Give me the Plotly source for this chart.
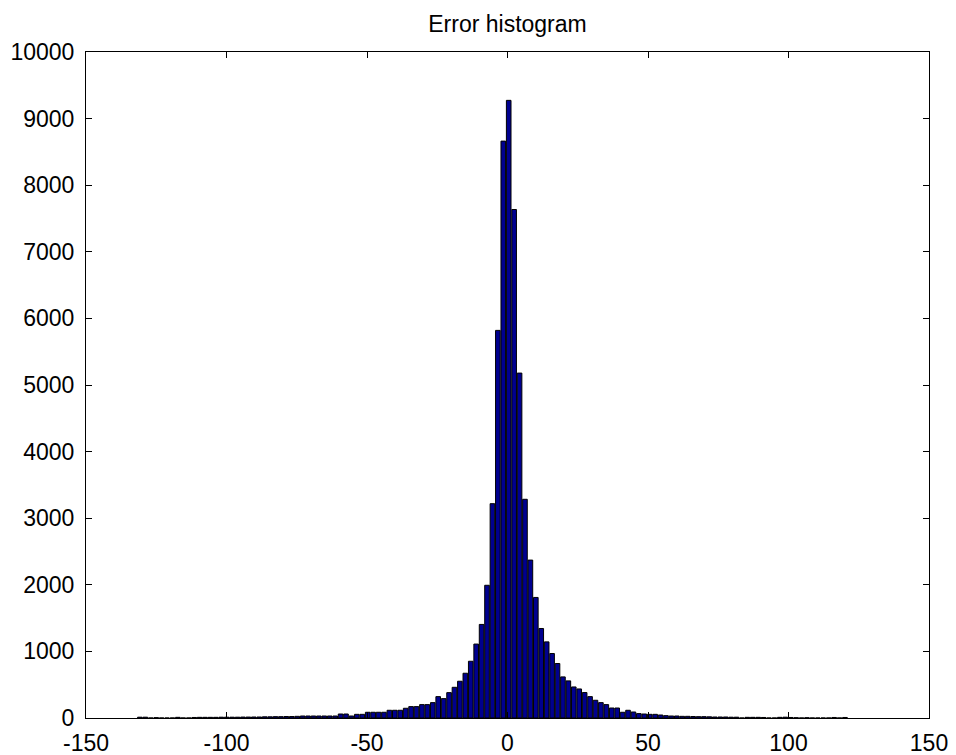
import numpy as np
import plotly.graph_objects as go

# Histogram of errors: bin layout and counts
BIN_START = -130.81   # centre of the first bin
BIN_WIDTH = 1.93
counts = [
    12, 12, 0, 5, 0, 0, 0, 10, 0, 0,            # -68 .. -59
    8, 10, 10, 10, 10, 12, 12, 12, 12, 14,      # -58 .. -49
    14, 15, 15, 18, 18, 20, 20, 22, 22, 25,     # -48 .. -39
    30, 30, 30, 30, 30, 30, 30, 60, 60, 30,     # -38 .. -29
    55, 55, 86, 86, 86, 86, 116, 116, 116, 146, # -28 .. -19
    171, 171, 201, 201, 231, 321, 291, 381, 461, 552,  # -18 .. -9
    672, 852, 1110, 1405, 1993, 3218, 5820, 8662,      # -8 .. -1
    9274,                                              # 0
    7635, 5179, 3284, 2371, 1810, 1344, 1143, 968, 818, 617,  # 1 .. 10
    557, 466, 436, 382, 321, 266, 231, 201, 150, 150,  # 11 .. 20
    86, 116, 90, 66, 60, 55, 55, 45, 35, 30,           # 21 .. 30
    30, 25, 25, 22, 20, 20, 18, 15, 15, 15,            # 31 .. 40
    12, 12, 0, 10, 10, 10, 8, 0, 0, 10,                # 41 .. 50
    12, 8, 4, 0, 4, 0, 0, 0, 0, 8,                     # 51 .. 60
    0, 8,                                              # 61 .. 62
]
bin_centers = BIN_START + BIN_WIDTH * np.arange(len(counts))

x_ticks = [-150, -100, -50, 0, 50, 100, 150]
y_ticks = list(range(0, 10001, 1000))
title_text = "Error histogram"

FONT = "Liberation Sans, Arial, Helvetica, sans-serif"

# the page body adds an 8px margin around the figure, so the figure is
# sized to fill the remaining window area
FIG_W, FIG_H = 948, 747

fig = go.Figure(
    go.Bar(
        x=bin_centers,
        y=counts,
        width=BIN_WIDTH * 0.85,
        marker=dict(color="#00008F", line=dict(color="black", width=1)),
        hoverinfo="x+y",
    )
)

axis_common = dict(
    showline=True,
    linecolor="black",
    linewidth=1,
    mirror="ticks",
    ticks="inside",
    ticklen=6,
    tickcolor="black",
    tickwidth=1,
    showgrid=False,
    zeroline=False,
    automargin=False,
    tickfont=dict(family=FONT, size=23, color="black"),
)

fig.update_layout(
    width=FIG_W,
    height=FIG_H,
    margin=dict(l=78, r=27, t=44, b=37),
    paper_bgcolor="white",
    plot_bgcolor="white",
    showlegend=False,
    title=dict(
        text=title_text,
        x=0.5,
        xref="paper",
        xanchor="center",
        yref="container",
        y=1 - 16 / FIG_H,
        yanchor="middle",
        font=dict(family=FONT, size=23, color="black"),
    ),
    xaxis=dict(range=[-150, 150], tickvals=x_ticks, ticktext=[str(v) for v in x_ticks],
               ticklabelstandoff=4, **axis_common),
    yaxis=dict(range=[0, 10000], tickvals=y_ticks, ticktext=[str(v) for v in y_ticks],
               ticklabelstandoff=6, **axis_common),
)

fig.write_html("out.html")
